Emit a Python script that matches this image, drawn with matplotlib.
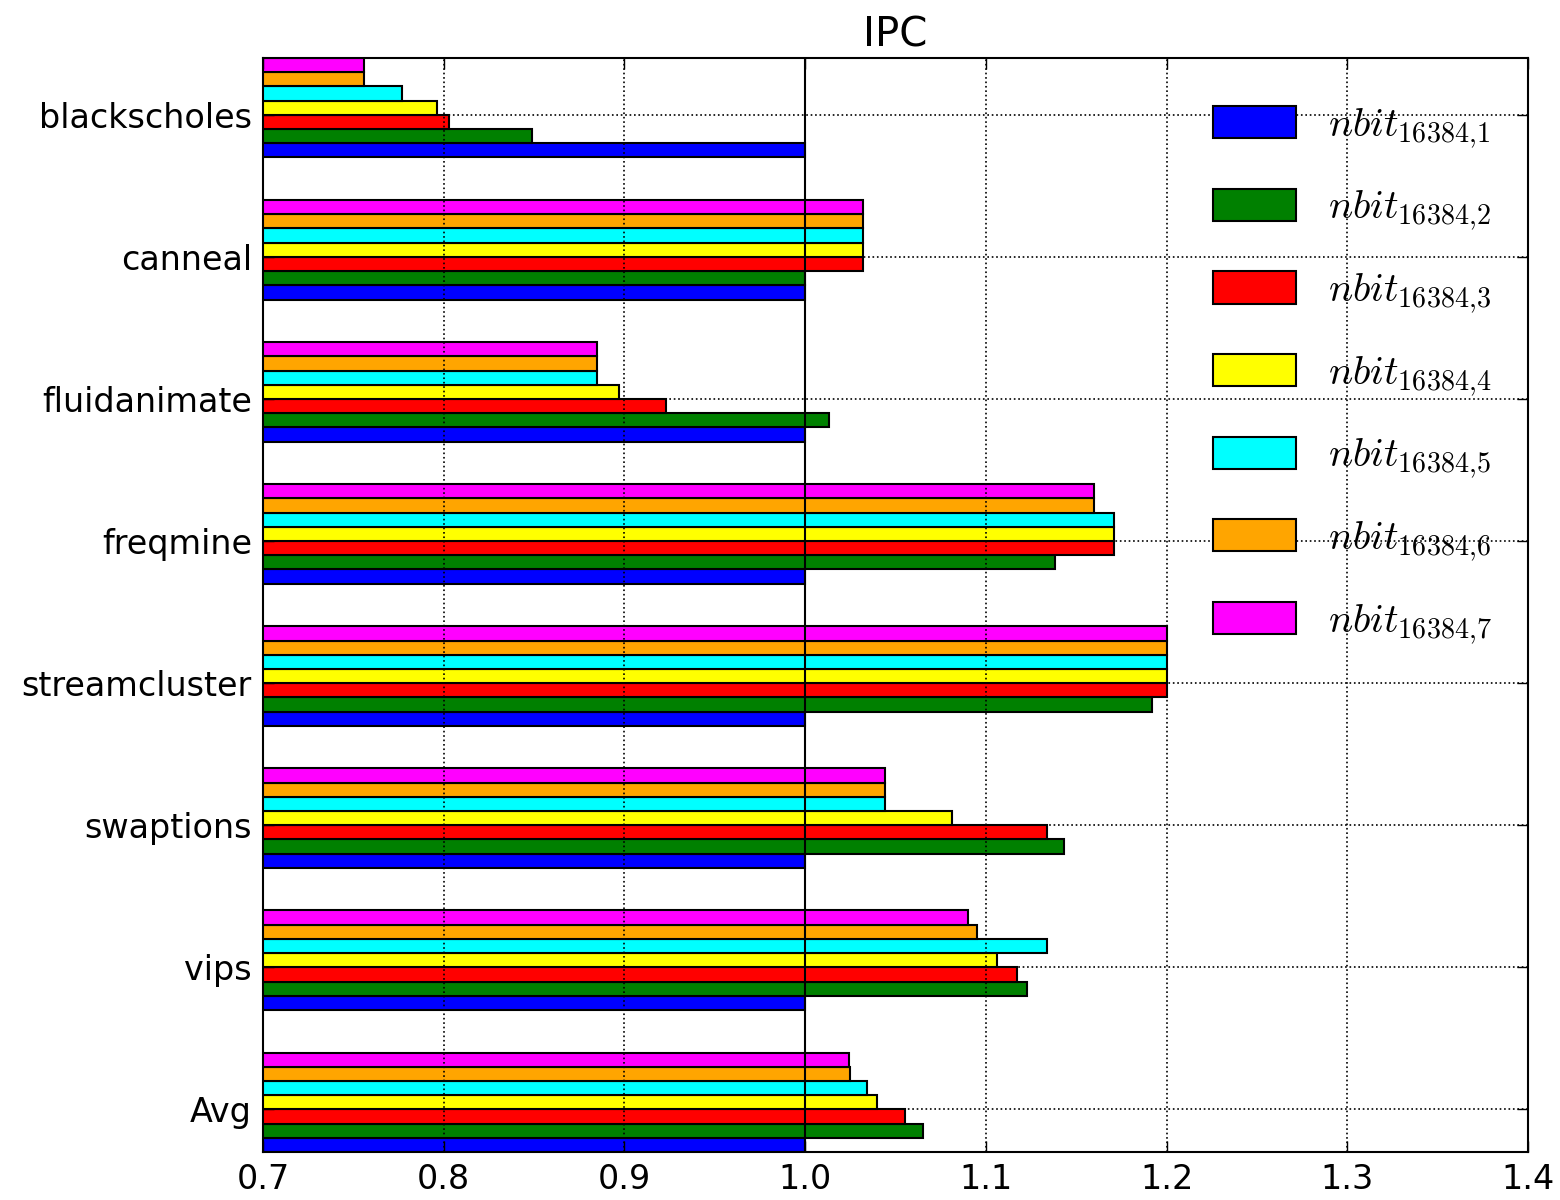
import matplotlib
matplotlib.use('Agg')
import matplotlib.pyplot as plt
import numpy as np

# benchmarks, top to bottom as in the chart
benchmarks = ['blackscholes', 'canneal', 'fluidanimate', 'freqmine',
              'streamcluster', 'swaptions', 'vips', 'Avg']

# IPC normalised, one list per config (k = 1..7)
ipc_k1 = [1.0, 1.0, 1.0, 1.0, 1.0, 1.0, 1.0, 1.0]
ipc_k2 = [0.849, 1.0, 1.013, 1.138, 1.192, 1.143, 1.123, 1.065]
ipc_k3 = [0.803, 1.032, 0.923, 1.171, 1.200, 1.134, 1.117, 1.055]
ipc_k4 = [0.796, 1.032, 0.897, 1.171, 1.200, 1.081, 1.106, 1.040]
ipc_k5 = [0.777, 1.032, 0.885, 1.171, 1.200, 1.044, 1.134, 1.034]
ipc_k6 = [0.756, 1.032, 0.885, 1.160, 1.200, 1.044, 1.095, 1.025]
ipc_k7 = [0.756, 1.032, 0.885, 1.160, 1.200, 1.044, 1.090, 1.024]

series = [ipc_k1, ipc_k2, ipc_k3, ipc_k4, ipc_k5, ipc_k6, ipc_k7]
labels = [r'$nbit_{16384{,}%d}$' % k for k in range(1, 8)]
colors = ['blue', 'green', 'red', 'yellow', 'cyan', 'orange', 'magenta']

plt.rcParams['mathtext.fontset'] = 'cm'
plt.rcParams['font.family'] = 'DejaVu Sans'

fig = plt.figure(figsize=(15.6, 12), dpi=100)
ax = fig.add_axes([0.1686, 0.04, 0.8109, 0.9117])

n = len(benchmarks)
ind = np.arange(n)[::-1]  # blackscholes on top
width = 0.1

for i, vals in enumerate(series):
    ax.barh(ind + i * width, vals, height=width, align='edge',
            color=colors[i], edgecolor='black', linewidth=1.5,
            label=labels[i])

ax.axvline(1.0, color='black', linewidth=1.5)

ax.set_xlim(0.7, 1.4)
ax.set_ylim(0, n - 1 + 0.7)
ax.set_yticks(ind + 3 * width)
ax.set_yticklabels(benchmarks)
ax.set_xticks(np.arange(0.7, 1.41, 0.1))
ax.set_xticklabels(['%.1f' % v for v in np.arange(0.7, 1.41, 0.1)])

ax.set_axisbelow(False)
ax.grid(True, linestyle=':', color='black', linewidth=1.2)
ax.tick_params(direction='in', top=True, right=True, length=8, width=1,
               labelsize=24, pad=8)
for s in ax.spines.values():
    s.set_linewidth(1.5)

ax.set_title('IPC', fontsize=29, pad=8)

ax.legend(loc='upper right', bbox_to_anchor=(1.0, 0.99), frameon=False,
          fontsize=29, handlelength=2.05, handleheight=0.85,
          labelspacing=0.92, handletextpad=0.8, borderaxespad=0.5)

fig.savefig('out.png', dpi=100)
